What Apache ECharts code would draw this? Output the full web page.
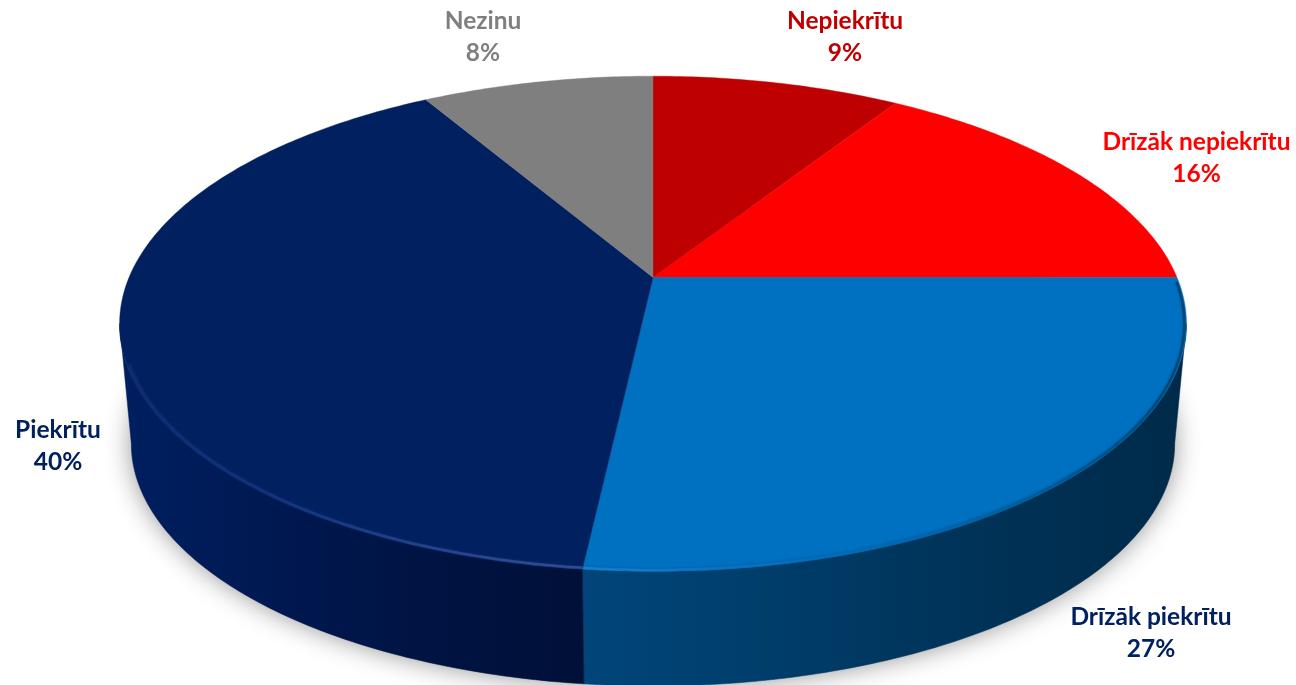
<!DOCTYPE html>
<html><head><meta charset="utf-8">
<style>html,body{margin:0;padding:0;background:#fff;overflow:hidden}#c{width:1296px;height:685px}</style>
<script src="https://cdn.jsdelivr.net/npm/echarts@6/dist/echarts.min.js"></script>
</head><body><div id="c"></div>
<script>
// Data (clockwise from 12 o'clock)
const categories = ['Nepiekrītu','Drīzāk nepiekrītu','Drīzāk piekrītu','Piekrītu','Nezinu'];
const shares = [9, 16, 26.75, 39.85, 8.4];
const shownPercent = ['9%','16%','27%','40%','8%'];

// Styles
const topColors = ['#BE0000','#FF0000','#0070C0','#002060','#7F7F7F'];
const labelColors = ['#C00000','#FF0000','#002060','#002060','#7F7F7F'];
const labelCentres = [[845,21],[1196.5,142],[1151,617],[58,430],[483,21]];
const LINE = 32;

// Perspective projection of the disc
const P = {cx:653, cy:277.5, A:524, B:239, k:-0.187, ringY:323, dropY:120, shrink:0.978, visFrom:100.7, visTo:259.3};
function topPt(deg){
  const t = deg*Math.PI/180, u = Math.sin(t), v = -Math.cos(t), d = 1+P.k*v;
  return [P.cx+P.A*u/d, P.cy+P.B*v/d];
}
function botPt(deg){
  const p = topPt(deg);
  return [P.cx+(p[0]-P.cx)*P.shrink, P.ringY+P.dropY+(p[1]-P.ringY)*P.shrink];
}
function arc(fn,a,b){
  const pts=[], n=Math.max(2,Math.ceil(Math.abs(b-a)/0.75));
  for(let i=0;i<=n;i++) pts.push(fn(a+(b-a)*i/n));
  return pts;
}
const total = shares.reduce((s,x)=>s+x,0);
function range(i){
  let s=0; for(let j=0;j<i;j++) s+=shares[j];
  return [s/total*360,(s+shares[i])/total*360];
}
const G = (x1,x2,stops)=>new echarts.graphic.LinearGradient(x1,0,x2,0,stops.map(c=>({offset:c[0],color:c[1]})),true);
const sideFill = {
  2: G(583,1187,[[0,'#01457A'],[0.25,'#003F6E'],[0.6,'#00345A'],[1,'#002A49']]),
  3: G(120,583,[[0,'#001F60'],[0.35,'#001850'],[0.75,'#00123F'],[1,'#001038']])
};
const rimStroke = {
  2: G(583,1187,[[0,'#1B84DA'],[0.18,'#0C79CC'],[0.4,'#0070C0'],[0.7,'#00609F'],[1,'#003F69']]),
  3: G(120,583,[[0,'#0A2E78'],[0.3,'#13357F'],[0.7,'#2B4A94'],[1,'#35549C']])
};

const option = {
  animation:false,
  backgroundColor:'#fff',
  series:[
    {type:'custom',coordinateSystem:'none',z:1,silent:true,data:[total],
     renderItem(){
       return {type:'polygon',shape:{points:arc(botPt,0,360)},
         style:{fill:'#aaa',shadowBlur:26,shadowColor:'rgba(0,0,0,0.42)'}};
     }},
    {type:'custom',coordinateSystem:'none',z:2,silent:true,data:shares,
     renderItem(params){
       const i=params.dataIndex, r=range(i);
       const a=Math.max(r[0],P.visFrom), b=Math.min(r[1],P.visTo);
       if(b<=a) return null;
       const pts=arc(topPt,a,b).concat(arc(botPt,b,a));
       return {type:'polygon',shape:{points:pts},
         style:{fill:sideFill[i]||topColors[i],stroke:sideFill[i]||topColors[i],lineWidth:0.5}};
     }},
    {type:'custom',coordinateSystem:'none',z:3,silent:true,data:shares,
     renderItem(params){
       const i=params.dataIndex, r=range(i);
       const kids=[{type:'polygon',shape:{points:[[P.cx,P.cy]].concat(arc(topPt,r[0],r[1]))},
         style:{fill:topColors[i],stroke:topColors[i],lineWidth:0.4}}];
       if(rimStroke[i]){
         const a=i===3?r[0]:r[0]+1, b=i===3?250:r[1];
         const inset=p=>{const q=topPt(p);return [q[0]-(q[0]-P.cx)*0.004,q[1]-(q[1]-P.ringY)*0.006];};
         kids.push({type:'polyline',shape:{points:arc(inset,a,b)},
           style:{fill:null,stroke:rimStroke[i],lineWidth:2.5,opacity:0.85,
                  shadowBlur:3,shadowColor:i===2?'rgba(0,60,110,0.6)':'rgba(30,60,130,0.6)'}});
       }
       return {type:'group',children:kids};
     }},
    {type:'custom',coordinateSystem:'none',z:4,silent:true,data:shares,
     renderItem(params){
       const i=params.dataIndex, c=labelCentres[i];
       const base={font:'bold 24.5px Lato',fill:labelColors[i],align:'center',verticalAlign:'middle'};
       return {type:'group',children:[
         {type:'text',style:Object.assign({},base,{x:c[0],y:c[1],text:categories[i]})},
         {type:'text',style:Object.assign({},base,{x:c[0],y:c[1]+LINE+0.5,text:shownPercent[i]})}
       ]};
     }}
  ]
};
echarts.init(document.getElementById('c'),null,{renderer:'canvas'}).setOption(option);
</script></body></html>
